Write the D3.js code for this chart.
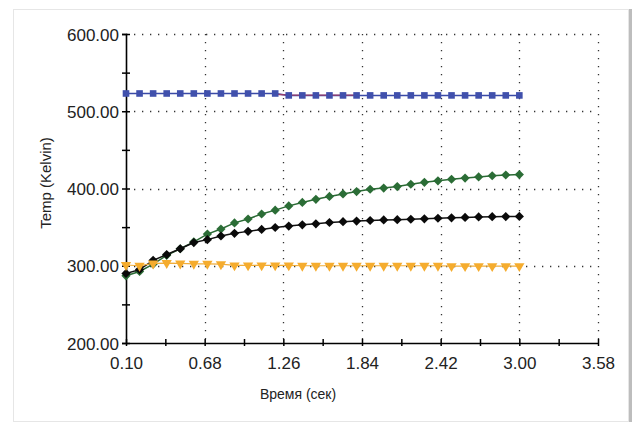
<!DOCTYPE html>
<html><head><meta charset="utf-8">
<script src="https://cdn.jsdelivr.net/npm/d3@7"></script>
<style>
html,body{margin:0;padding:0;background:#fff;}
svg{display:block;}
text{font-family:"Liberation Sans",Arial,sans-serif;fill:#222;}
</style></head>
<body>
<svg id="c" width="633" height="428"></svg>
<script>
const times = [0.1,0.2,0.3,0.4,0.5,0.6,0.7,0.8,0.9,1.0,1.1,1.2,1.3,1.4,1.5,1.6,1.7,1.8,1.9,2.0,2.1,2.2,2.3,2.4,2.5,2.6,2.7,2.8,2.9,3.0];
const blueVals = [523,523,523,523,523,523,523,523,523,523,523,523,520.5,520.5,520.5,520.5,520.5,520.5,520.5,520.5,520.5,520.5,520.5,520.5,520.5,520.5,520.5,520.5,520.5,520.5];
const redTimes = [1.2,1.3,1.4,1.5,1.6,1.7,1.8];
const redVals = [522,521,521,521,521,521,521];
const greenVals = [287,292.6,302,313.5,322,331,341,347.5,355.5,360.5,367,372,377.5,382,386,389.7,393,396,399,400.5,402.5,405.5,408,410,412,413.5,415,416.5,417.5,418];
const blackVals = [290,295,307,314.5,322,330,333.8,338.5,342,344.5,347,349.5,351.3,353,354.3,356,357,357.8,358.6,359.3,359.7,360.2,360.8,361.5,362,362.5,363.2,363.5,363.7,363.8];
const yellowVals = [301,300,303,303.5,303,302.5,302.5,302,300.5,300.5,300.5,300.5,300.5,300,300,300,300,300,300,300,300,300,300,300,299.5,299.5,299.5,299.5,299.5,299.5];
const xTicks = [0.10,0.68,1.26,1.84,2.42,3.00,3.58];
const xMinor = [0.39,0.97,1.55,2.13,2.71,3.29];
const yTicks = [200,300,400,500,600];
const yMinor = [250,350,450,550];

const svg = d3.select("#c");
// panel
svg.append("rect").attr("x",13.5).attr("y",9.5).attr("width",615).attr("height",412)
  .attr("fill","#fff").attr("stroke","#e6e6e6");
svg.append("rect").attr("x",629).attr("y",9).attr("width",3).attr("height",413).attr("fill","#bdbdbd");

const x = d3.scaleLinear().domain([0.10,3.58]).range([126,598]);
const y = d3.scaleLinear().domain([200,600]).range([343,34]);

// grid
const grid = svg.append("g").attr("stroke","#333").attr("stroke-width",1.3).attr("stroke-dasharray","1.3,6.7");
grid.selectAll("line.v").data(xTicks.slice(1)).join("line")
  .attr("x1",d=>Math.round(x(d))+0.5).attr("x2",d=>Math.round(x(d))+0.5).attr("y1",y(600)).attr("y2",y(200));
grid.selectAll("line.h").data(yTicks.slice(1)).join("line")
  .attr("y1",d=>Math.round(y(d))+0.5).attr("y2",d=>Math.round(y(d))+0.5).attr("x1",x(0.10)).attr("x2",x(3.58));

// axes
const fmt = d3.format(".2f");
const yl = svg.append("g").attr("transform","translate(126,0)")
  .call(d3.axisLeft(y).tickValues(yTicks).tickFormat(fmt).tickSize(4).tickPadding(3));
svg.append("g").attr("transform","translate(126,0)")
  .call(d3.axisRight(y).tickValues(yTicks).tickFormat("").tickSize(4)).select(".domain").remove();
svg.append("g").attr("transform","translate(126,0)")
  .call(d3.axisLeft(y).tickValues(yMinor).tickFormat("").tickSize(4)).select(".domain").remove();
svg.append("g").attr("transform","translate(126,0)")
  .call(d3.axisRight(y).tickValues(yMinor).tickFormat("").tickSize(4)).select(".domain").remove();
const xl = svg.append("g").attr("transform","translate(0,343)")
  .call(d3.axisBottom(x).tickValues(xTicks).tickFormat(fmt).tickSize(0).tickPadding(14));
svg.append("g").attr("transform","translate(0,343)")
  .call(d3.axisTop(x).tickValues(xTicks.concat(xMinor)).tickFormat("").tickSize(4)).select(".domain").remove();
svg.append("g").attr("transform","translate(0,343)")
  .call(d3.axisBottom(x).tickValues(xTicks.concat(xMinor)).tickFormat("").tickSize(3)).select(".domain").remove();
svg.selectAll(".domain").attr("stroke","#000").attr("stroke-width",1.6);
svg.selectAll(".tick line").attr("stroke","#000").attr("stroke-width",1.5);
svg.selectAll(".tick text").attr("font-size",17).attr("fill","#333")
  .style("font-family","'Liberation Sans',Arial,sans-serif");
yl.selectAll(".tick text").attr("dy","0.36em");

// titles
svg.append("text").attr("transform","translate(51,183) rotate(-90)").attr("text-anchor","middle")
  .attr("font-size",15).text("Temp (Kelvin)");
svg.append("text").attr("x",298).attr("y",399).attr("text-anchor","middle")
  .attr("font-size",14).text("Время (сек)");

const line = d3.line().x(d=>x(d[0])).y(d=>y(d[1]));
function series(vals, ts, color, width){
  const pts = ts.map((t,i)=>[t,vals[i]]);
  svg.append("path").datum(pts).attr("d",line).attr("fill","none").attr("stroke",color).attr("stroke-width",width);
  return pts;
}
const diamond = d3.symbol().type(d3.symbolDiamond2).size(54);
const tri = d3.symbol().type(d3.symbolTriangle).size(46);

// green
let gp = series(greenVals, times, "#2a6a34", 1.5);
svg.append("g").selectAll("path").data(gp).join("path").attr("d",diamond)
  .attr("transform",d=>`translate(${x(d[0])},${y(d[1])})`).attr("fill","#2b6d36");
// black
let bp = series(blackVals, times, "#111", 1.5);
svg.append("g").selectAll("path").data(bp).join("path").attr("d",diamond)
  .attr("transform",d=>`translate(${x(d[0])},${y(d[1])})`).attr("fill","#0a0a0a");
// yellow
let yp = series(yellowVals, times, "#f0ad3a", 1.2);
svg.append("g").selectAll("path").data(yp).join("path").attr("d",tri)
  .attr("transform",d=>`translate(${x(d[0])},${y(d[1])}) rotate(180)`).attr("fill","#f5ac2e");
// blue
let blp = series(blueVals, times, "#3a4aa6", 1.5);
series(redVals, redTimes, "#9a3c6a", 1.3);
svg.append("g").selectAll("rect").data(blp).join("rect")
  .attr("x",d=>x(d[0])-3.3).attr("y",d=>y(d[1])-3.3).attr("width",6.6).attr("height",6.6)
  .attr("fill","#4050ac");
</script>
</body></html>
